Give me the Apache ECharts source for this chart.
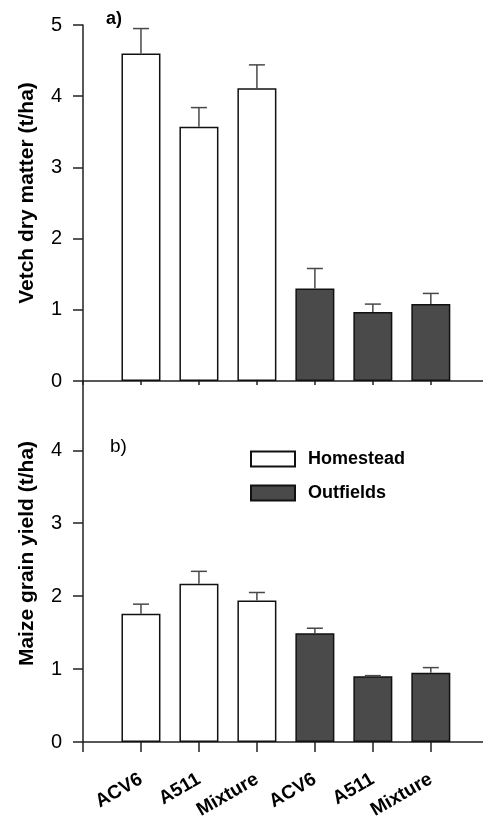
<!DOCTYPE html>
<html>
<head>
<meta charset="utf-8">
<script src="https://cdn.jsdelivr.net/npm/echarts@6/dist/echarts.min.js"></script>
<style>
html, body { margin: 0; padding: 0; background: #fff; }
#chart { width: 483px; height: 823px; }
</style>
</head>
<body>
<div id="chart"></div>
<script>
// positions of the six bars on the x axis (1..6), labels per position
const positions = [1, 2, 3, 4, 5, 6];
const xTicks = [0, 1, 2, 3, 4, 5, 6];
const xLabels = ['', 'ACV6', 'A511', 'Mixture', 'ACV6', 'A511', 'Mixture'];

// a) vetch dry matter (t/ha)
const vetchHomestead = [4.60, 3.57, 4.11];
const vetchHomesteadSe = [0.35, 0.27, 0.33];
const vetchOutfields = [1.30, 0.97, 1.08];
const vetchOutfieldsSe = [0.28, 0.11, 0.15];

// b) maize grain yield (t/ha)
const maizeHomestead = [1.76, 2.17, 1.94];
const maizeHomesteadSe = [0.13, 0.17, 0.11];
const maizeOutfields = [1.49, 0.90, 0.95];
const maizeOutfieldsSe = [0.07, 0.01, 0.07];

const FONT = '"Liberation Sans", Arial, Helvetica, sans-serif';
const AXIS = '#222';

const barData = (start, vals) => vals.map((v, i) => [positions[start + i], v]);
const errData = (start, vals, se) => vals.map((v, i) => [positions[start + i], v, v + se[i]]);

function renderErr(params, api) {
  const x = api.value(0);
  const p0 = api.coord([x, api.value(1)]);
  const p1 = api.coord([x, api.value(2)]);
  const st = { stroke: '#484848', lineWidth: 1.5 };
  return {
    type: 'group',
    children: [
      { type: 'line', shape: { x1: p0[0], y1: p0[1], x2: p1[0], y2: p1[1] }, style: st },
      { type: 'line', shape: { x1: p1[0] - 8, y1: p1[1], x2: p1[0] + 8, y2: p1[1] }, style: st }
    ]
  };
}

function xAxisFor(gridIndex, showLabels, tickLen) {
  return {
    type: 'value', gridIndex: gridIndex, min: 0, max: 6.9, interval: 1,
    axisLine: { show: true, onZero: false, lineStyle: { color: AXIS, width: 1.5 } },
    axisTick: { show: true, length: tickLen, customValues: xTicks, lineStyle: { color: AXIS, width: 1.5 } },
    splitLine: { show: false },
    axisLabel: {
      show: showLabels, rotate: 30, margin: 36, customValues: xTicks,
      fontSize: 19, fontWeight: 'bold', color: '#000', fontFamily: FONT,
      formatter: v => xLabels[v] || ''
    }
  };
}

function yAxisFor(gridIndex, max, name, pad) {
  return {
    type: 'value', gridIndex: gridIndex, min: 0, max: max, interval: 1,
    name: name, nameLocation: 'middle', nameGap: 45,
    nameTextStyle: { fontSize: 21, fontWeight: 'bold', color: '#000', fontFamily: FONT, padding: pad },
    axisLine: { show: true, lineStyle: { color: AXIS, width: 1.5 } },
    axisTick: { show: true, length: 10, lineStyle: { color: AXIS, width: 1.5 } },
    splitLine: { show: false },
    axisLabel: {
      margin: 21, fontSize: 20, color: '#000', fontFamily: FONT,
      formatter: v => Number.isInteger(v) ? String(v) : ''
    }
  };
}

function bars(name, xi, data, color) {
  return {
    name: name, type: 'bar', xAxisIndex: xi, yAxisIndex: xi,
    data: data, barWidth: 39, barGap: '-100%',
    itemStyle: { color: color, borderColor: '#111', borderWidth: 1.5 },
    z: 2
  };
}

function errs(xi, data) {
  return {
    type: 'custom', xAxisIndex: xi, yAxisIndex: xi,
    data: data, renderItem: renderErr,
    encode: { x: 0, y: [1, 2] }, z: 3
  };
}

const chart = echarts.init(document.getElementById('chart'));
chart.setOption({
  animation: false,
  backgroundColor: '#fff',
  grid: [
    { left: 83, top: 25, width: 400, height: 356 },
    { left: 83, top: 381, width: 400, height: 361 }
  ],
  xAxis: [xAxisFor(0, false, 4), xAxisFor(1, true, 10)],
  yAxis: [
    yAxisFor(0, 5, 'Vetch dry matter (t/ha)', [0, 0, 0, 20]),
    yAxisFor(1, 4.95, 'Maize grain yield (t/ha)', [0, 0, 0, 16])
  ],
  legend: {
    data: ['Homestead', 'Outfields'],
    orient: 'vertical', left: 245, top: 445,
    itemWidth: 44, itemHeight: 15, itemGap: 16, icon: 'rect',
    textStyle: { fontSize: 18, fontWeight: 'bold', color: '#000', fontFamily: FONT, lineHeight: 15, padding: [0, 0, 0, 8] }
  },
  graphic: [
    { type: 'text', left: 106, top: 10, style: { text: 'a)', font: 'bold 18px ' + FONT, fill: '#000' } },
    { type: 'text', left: 110, top: 437, style: { text: 'b)', font: '19px ' + FONT, fill: '#000' } }
  ],
  series: [
    bars('Homestead', 0, barData(0, vetchHomestead), '#fff'),
    bars('Outfields', 0, barData(3, vetchOutfields), '#4a4a4a'),
    errs(0, errData(0, vetchHomestead, vetchHomesteadSe)),
    errs(0, errData(3, vetchOutfields, vetchOutfieldsSe)),
    bars('Homestead', 1, barData(0, maizeHomestead), '#fff'),
    bars('Outfields', 1, barData(3, maizeOutfields), '#4a4a4a'),
    errs(1, errData(0, maizeHomestead, maizeHomesteadSe)),
    errs(1, errData(3, maizeOutfields, maizeOutfieldsSe))
  ]
});
</script>
</body>
</html>
